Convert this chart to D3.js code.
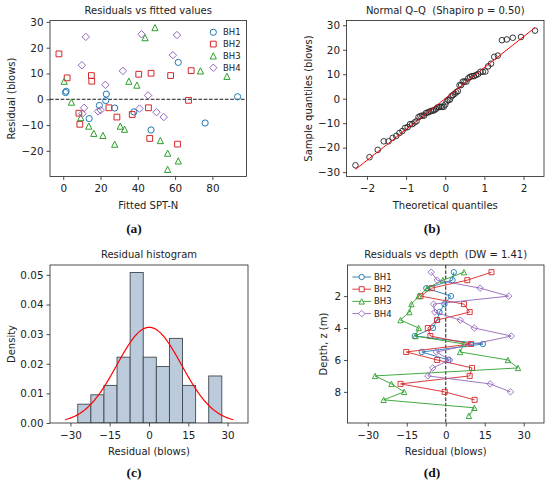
<!DOCTYPE html>
<html>
<head>
<meta charset="utf-8">
<script src="https://cdn.jsdelivr.net/npm/d3@7"></script>
<style>
  body { margin: 0; background: #fff; }
  svg { display: block; font-family: "DejaVu Sans", sans-serif; }
  text { white-space: pre; }
</style>
</head>
<body>
<svg id="fig" width="550" height="484"></svg>
<script>
// Borehole data: depth (m), residual (blows), fitted SPT-N
const boreholes = ["BH1", "BH2", "BH3", "BH4"];

const bh1Depth = [0.5, 1.0, 1.5, 2.0, 2.5, 3.0, 3.5, 4.0, 4.5, 5.0, 5.5, 6.0];
const bh1Resid = [3.1, 2.6, -7.5, 2.0, -0.5, -2.4, -3.4, -4.9, -11.9, 14.3, -9.2, 1.0];
const bh1Fitted = [1.6, 1.2, 13.9, 23.1, 22.8, 19.4, 27.6, 37.9, 47.1, 61.7, 76.1, 93.5];

const bh2Depth = [0.5, 1.0, 1.5, 2.0, 2.5, 3.0, 3.5, 4.0, 4.5, 5.0, 5.5, 6.0, 6.5, 7.0, 7.5, 8.0, 8.5];
const bh2Resid = [17.6, 8.3, -5.4, -9.7, 7.0, 9.2, -3.3, -6.9, -5.9, 9.7, -15.2, -3.3, 10.1, 9.2, -17.4, -0.4, 11.1];
const bh2Fitted = [-2.3, 2.1, 8.4, 8.9, 15.3, 15.1, 24.5, 28.8, 37.0, 40.5, 46.4, 45.7, 47.1, 57.6, 61.3, 67.2, 68.6];

const bh3Depth = [0.5, 1.0, 1.5, 2.0, 2.5, 3.0, 3.5, 4.0, 4.5, 5.0, 5.5, 6.0, 6.5, 7.0, 7.5, 8.0, 8.5, 9.0, 9.5];
const bh3Resid = [7.0, -1.1, -7.1, -10.4, -13.2, -14.0, -17.4, -10.4, -11.6, 7.0, 5.5, 23.9, 27.8, -27.2, -20.9, -16.0, -23.9, 11.0, 8.9];
const bh3Fitted = [0.5, 4.4, 9.4, 13.7, 16.4, 21.3, 27.6, 30.6, 32.9, 35.2, 39.5, 43.9, 49.2, 56.0, 56.0, 52.1, 61.7, 73.6, 87.8];

const bh4Depth = [0.5, 1.0, 1.5, 2.0, 2.5, 3.0, 3.5, 4.0, 4.5, 5.5, 6.0, 6.5, 7.0, 7.5, 8.0];
const bh4Resid = [-5.6, -3.3, 13.2, 24.2, -4.7, -4.2, 5.6, 11.0, 25.2, -3.6, 1.5, -5.0, -6.9, 17.1, 24.9];
const bh4Fitted = [10.3, 11.2, 10.0, 12.1, 18.7, 20.1, 22.6, 32.0, 42.0, 40.9, 45.5, 50.0, 53.9, 58.8, 61.0];

const shapiroP = "0.50";
const durbinWatson = "1.41";

const ticksA_x = [0, 20, 40, 60, 80];
const ticksA_y = [-20, -10, 0, 10, 20, 30];
const ticksB_x = [-2, -1, 0, 1, 2];
const ticksB_y = [-30, -20, -10, 0, 10, 20, 30];
const ticksC_x = [-30, -15, 0, 15, 30];
const ticksC_y = [0, 0.01, 0.02, 0.03, 0.04, 0.05];
const ticksD_x = [-30, -15, 0, 15, 30];
const ticksD_y = [2, 4, 6, 8];

// ---- styling / layout ----
const colors = ["#1f77b4", "#d62728", "#2ca02c", "#9467bd"];
const shapes = ["circle", "square", "triangle", "diamond"];
const residLim = 37.8;

const boxA = { l: 50, r: 246.5, t: 20.5, b: 176.5 };
const boxB = { l: 346.5, r: 544, t: 20.5, b: 176.5 };
const boxC = { l: 50, r: 248, t: 265, b: 423 };
const boxD = { l: 347.5, r: 544, t: 265, b: 423 };

const series = [
  { name: "BH1", depth: bh1Depth, resid: bh1Resid, fitted: bh1Fitted },
  { name: "BH2", depth: bh2Depth, resid: bh2Resid, fitted: bh2Fitted },
  { name: "BH3", depth: bh3Depth, resid: bh3Resid, fitted: bh3Fitted },
  { name: "BH4", depth: bh4Depth, resid: bh4Resid, fitted: bh4Fitted }
];
const allResid = series.flatMap(s => s.resid);
const allFitted = series.flatMap(s => s.fitted);

const svg = d3.select("#fig");
svg.append("rect").attr("width", 550).attr("height", 484).attr("fill", "#fff");

function minus(s) { return String(s).replace("-", "\u2212"); }

// matplotlib-like 5% margins
function padded(ext, frac = 0.05) {
  const span = ext[1] - ext[0];
  return [ext[0] - span * frac, ext[1] + span * frac];
}

function markerPath(type, s) {
  if (type === "circle") return `M${s},0A${s},${s} 0 1,1 ${-s},0A${s},${s} 0 1,1 ${s},0Z`;
  if (type === "square") { const h = s * 0.93; return `M${-h},${-h}H${h}V${h}H${-h}Z`; }
  if (type === "triangle") return `M0,${-s}L${-s},${s}L${s},${s}Z`;
  const h = s * 1.2;
  return `M0,${-h}L${h},0L0,${h}L${-h},0Z`;
}

function drawAxes(box, x, y, xt, yt, xfmt, yfmt, title, xlab, ylab, ylabX) {
  const g = svg.append("g");
  g.append("g")
    .attr("transform", `translate(0,${box.b})`)
    .call(d3.axisBottom(x).tickValues(xt).tickSize(3.5).tickPadding(5).tickFormat(xfmt))
    .call(a => a.select(".domain").remove());
  g.append("g")
    .attr("transform", `translate(${box.l},0)`)
    .call(d3.axisLeft(y).tickValues(yt).tickSize(3.5).tickPadding(3).tickFormat(yfmt))
    .call(a => a.select(".domain").remove());
  g.selectAll(".tick line").attr("stroke", "#222").attr("stroke-width", 0.8);
  g.selectAll(".tick text").attr("fill", "#222").style("font-size", "10.4px")
    .style("font-family", "DejaVu Sans");

  svg.append("text")
    .attr("x", (box.l + box.r) / 2).attr("y", box.t - 7)
    .attr("text-anchor", "middle").style("font-size", "10px").attr("fill", "#222")
    .text(title);
  svg.append("text")
    .attr("x", (box.l + box.r) / 2).attr("y", box.b + 32)
    .attr("text-anchor", "middle").style("font-size", "10px").attr("fill", "#222")
    .text(xlab);
  svg.append("text")
    .attr("transform", `translate(${ylabX},${(box.t + box.b) / 2}) rotate(-90)`)
    .attr("dy", "0.35em")
    .attr("text-anchor", "middle").style("font-size", "10px").attr("fill", "#222")
    .text(ylab);
  return g;
}

function drawFrame(box) {
  svg.append("rect")
    .attr("x", box.l).attr("y", box.t)
    .attr("width", box.r - box.l).attr("height", box.b - box.t)
    .attr("fill", "none").attr("stroke", "#222").attr("stroke-width", 0.8);
}

function clip(id, box) {
  svg.append("clipPath").attr("id", id)
    .append("rect").attr("x", box.l).attr("y", box.t)
    .attr("width", box.r - box.l).attr("height", box.b - box.t);
  return svg.append("g").attr("clip-path", `url(#${id})`);
}

function figLabel(x, y, txt) {
  svg.append("text").attr("x", x).attr("y", y)
    .attr("text-anchor", "middle")
    .style("font-family", "Liberation Serif, serif").style("font-weight", "bold")
    .style("font-size", "13.5px").attr("fill", "#111")
    .text(txt);
}

// ---- (a) residuals vs fitted ----
{
  const x = d3.scaleLinear().domain(padded(d3.extent(allFitted))).range([boxA.l, boxA.r]);
  const y = d3.scaleLinear().domain(padded(d3.extent(allResid))).range([boxA.b, boxA.t]);
  drawAxes(boxA, x, y, ticksA_x, ticksA_y, d => minus(d), d => minus(d),
    "Residuals vs fitted values", "Fitted SPT-N", "Residual (blows)", 11);
  const g = clip("clipA", boxA);
  g.append("line")
    .attr("x1", boxA.l).attr("x2", boxA.r).attr("y1", y(0)).attr("y2", y(0))
    .attr("stroke", "#000").attr("stroke-width", 0.9).attr("stroke-dasharray", "3.7,1.6");
  series.forEach((s, i) => {
    g.selectAll(null).data(s.resid).join("path")
      .attr("transform", (d, j) => `translate(${x(s.fitted[j])},${y(d)})`)
      .attr("d", markerPath(shapes[i], 3.1))
      .attr("fill", "none").attr("stroke", colors[i]).attr("stroke-width", 1);
  });
  drawFrame(boxA);
  const leg = svg.append("g");
  boreholes.forEach((name, i) => {
    const ly = 32.3 + i * 11.8;
    leg.append("path").attr("transform", `translate(213.3,${ly})`)
      .attr("d", markerPath(shapes[i], 3.1))
      .attr("fill", "none").attr("stroke", colors[i]).attr("stroke-width", 1);
    leg.append("text").attr("x", 223).attr("y", ly).attr("dy", "0.35em")
      .style("font-size", "8.5px").attr("fill", "#222").text(name);
  });
  figLabel(134, 233, "(a)");
}

// ---- (b) normal Q-Q ----
function normInv(p) {
  const a = [-3.969683028665376e+01, 2.209460984245205e+02, -2.759285104469687e+02, 1.383577518672690e+02, -3.066479806614716e+01, 2.506628277459239e+00];
  const b = [-5.447609879822406e+01, 1.615858368580409e+02, -1.556989798598866e+02, 6.680131188771972e+01, -1.328068155288572e+01];
  const c = [-7.784894002430293e-03, -3.223964580411365e-01, -2.400758277161838e+00, -2.549732539343734e+00, 4.374664141464968e+00, 2.938163982698783e+00];
  const d = [7.784695709041462e-03, 3.224671290700398e-01, 2.445134137142996e+00, 3.754408661907416e+00];
  const pl = 0.02425;
  if (p < pl) {
    const q = Math.sqrt(-2 * Math.log(p));
    return (((((c[0] * q + c[1]) * q + c[2]) * q + c[3]) * q + c[4]) * q + c[5]) / ((((d[0] * q + d[1]) * q + d[2]) * q + d[3]) * q + 1);
  }
  if (p > 1 - pl) return -normInv(1 - p);
  const q = p - 0.5, r = q * q;
  return (((((a[0] * r + a[1]) * r + a[2]) * r + a[3]) * r + a[4]) * r + a[5]) * q / (((((b[0] * r + b[1]) * r + b[2]) * r + b[3]) * r + b[4]) * r + 1);
}

{
  const sorted = allResid.slice().sort(d3.ascending);
  const n = sorted.length;
  // Filliben order-statistic medians (as scipy.stats.probplot)
  const mTop = Math.pow(0.5, 1 / n);
  const osm = sorted.map((_, i) => normInv(i === 0 ? 1 - mTop : i === n - 1 ? mTop : (i + 1 - 0.3175) / (n + 0.365)));
  const mx = d3.mean(osm), my = d3.mean(sorted);
  const slope = d3.sum(osm, (v, i) => (v - mx) * (sorted[i] - my)) / d3.sum(osm, v => (v - mx) ** 2);
  const icpt = my - slope * mx;
  const lineY = osm.map(v => slope * v + icpt);

  const x = d3.scaleLinear().domain(padded(d3.extent(osm))).range([boxB.l, boxB.r]);
  const y = d3.scaleLinear().domain(padded(d3.extent(sorted.concat(lineY)))).range([boxB.b, boxB.t]);
  drawAxes(boxB, x, y, ticksB_x, ticksB_y, d => minus(d), d => minus(d),
    `Normal Q\u2013Q  (Shapiro p = ${shapiroP})`, "Theoretical quantiles", "Sample quantiles (blows)", 308.5);
  const g = clip("clipB", boxB);
  g.selectAll(null).data(sorted).join("circle")
    .attr("cx", (d, i) => x(osm[i])).attr("cy", d => y(d)).attr("r", 2.8)
    .attr("fill", "none").attr("stroke", "#222").attr("stroke-width", 0.9);
  g.append("path")
    .datum(osm)
    .attr("d", d3.line().x(v => x(v)).y(v => y(slope * v + icpt)))
    .attr("fill", "none").attr("stroke", "#ff0000").attr("stroke-width", 1);
  drawFrame(boxB);
  figLabel(432, 233, "(b)");
}

// ---- (c) residual histogram ----
{
  const lo = d3.min(allResid), hi = d3.max(allResid);
  const nBins = 11;
  const thresholds = d3.range(1, nBins).map(k => lo + k * (hi - lo) / nBins);
  const bins = d3.bin().domain([lo, hi]).thresholds(thresholds)(allResid);
  const width = (hi - lo) / nBins;
  const dens = bins.map(b => b.length / (allResid.length * width));

  const mu = d3.mean(allResid);
  const sd = Math.sqrt(d3.mean(allResid, v => (v - mu) ** 2));
  const pdf = v => Math.exp(-0.5 * ((v - mu) / sd) ** 2) / (sd * Math.sqrt(2 * Math.PI));

  const x = d3.scaleLinear().domain([-residLim, residLim]).range([boxC.l, boxC.r]);
  const y = d3.scaleLinear().domain([0, d3.max(dens) * 1.05]).range([boxC.b, boxC.t]);
  drawAxes(boxC, x, y, ticksC_x, ticksC_y, d => minus(d), d3.format(".2f"),
    "Residual histogram", "Residual (blows)", "Density", 11);
  const g = clip("clipC", boxC);
  g.selectAll(null).data(bins.filter(b => b.length > 0)).join("rect")
    .attr("x", b => x(b.x0)).attr("width", b => x(b.x1) - x(b.x0))
    .attr("y", b => y(b.length / (allResid.length * width)))
    .attr("height", b => y(0) - y(b.length / (allResid.length * width)))
    .attr("fill", "#bccbdc").attr("stroke", "#3f4850").attr("stroke-width", 0.9);
  const xs = d3.range(201).map(k => mu - 2.6 * sd + k * (5.2 * sd) / 200);
  g.append("path").datum(xs)
    .attr("d", d3.line().x(v => x(v)).y(v => y(pdf(v))))
    .attr("fill", "none").attr("stroke", "#ff0000").attr("stroke-width", 1.2);
  drawFrame(boxC);
  figLabel(134, 477, "(c)");
}

// ---- (d) residuals vs depth ----
{
  const allDepth = series.flatMap(s => s.depth);
  const x = d3.scaleLinear().domain([-residLim, residLim]).range([boxD.l, boxD.r]);
  const y = d3.scaleLinear().domain(padded(d3.extent(allDepth))).range([boxD.t, boxD.b]);
  drawAxes(boxD, x, y, ticksD_x, ticksD_y, d => minus(d), d => d,
    `Residuals vs depth  (DW = ${durbinWatson})`, "Residual (blows)", "Depth, z (m)", 323.5);
  const g = clip("clipD", boxD);
  g.append("line")
    .attr("x1", x(0)).attr("x2", x(0)).attr("y1", boxD.t).attr("y2", boxD.b)
    .attr("stroke", "#000").attr("stroke-width", 0.9).attr("stroke-dasharray", "3.7,1.6");
  series.forEach((s, i) => {
    g.append("path").datum(s.resid)
      .attr("d", d3.line().x(d => x(d)).y((d, j) => y(s.depth[j])))
      .attr("fill", "none").attr("stroke", colors[i]).attr("stroke-width", 0.9);
    g.selectAll(null).data(s.resid).join("path")
      .attr("transform", (d, j) => `translate(${x(d)},${y(s.depth[j])})`)
      .attr("d", markerPath(shapes[i], 2.7))
      .attr("fill", "none").attr("stroke", colors[i]).attr("stroke-width", 0.9);
  });
  drawFrame(boxD);
  const leg = svg.append("g");
  boreholes.forEach((name, i) => {
    const ly = 277 + i * 12.2;
    leg.append("line").attr("x1", 352.3).attr("x2", 371).attr("y1", ly).attr("y2", ly)
      .attr("stroke", colors[i]).attr("stroke-width", 0.9);
    leg.append("path").attr("transform", `translate(361.7,${ly})`)
      .attr("d", markerPath(shapes[i], 2.7))
      .attr("fill", "#fff").attr("stroke", colors[i]).attr("stroke-width", 0.9);
    leg.append("text").attr("x", 374).attr("y", ly).attr("dy", "0.35em")
      .style("font-size", "8.5px").attr("fill", "#222").text(name);
  });
  figLabel(432, 477, "(d)");
}
</script>
</body>
</html>
